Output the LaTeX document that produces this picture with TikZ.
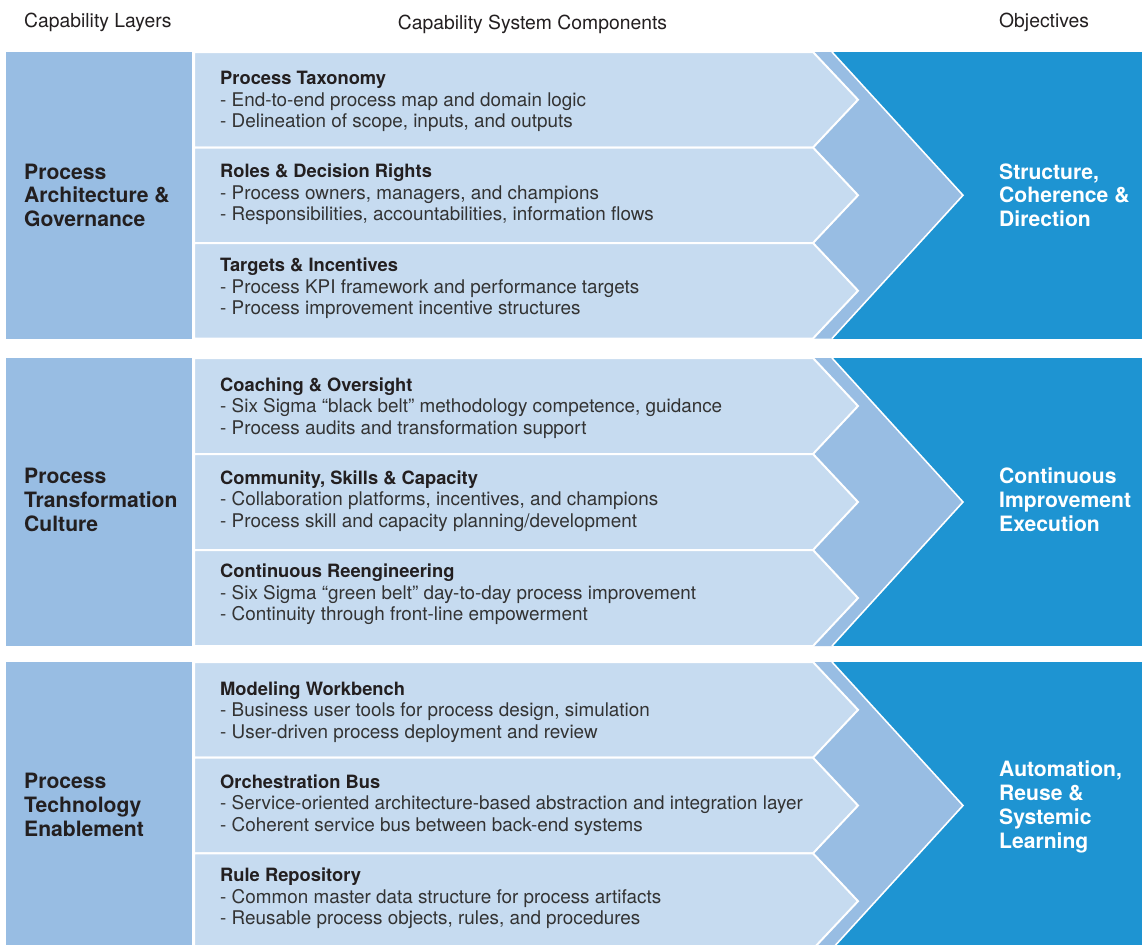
\documentclass[tikz,border=0pt]{standalone}
\usepackage{fontspec}
\setmainfont{TeX Gyre Heros}
\definecolor{lightrow}{HTML}{C6DBF0}
\definecolor{medblue}{HTML}{98BDE3}
\definecolor{darkblue}{HTML}{1E94D2}
\definecolor{txtdark}{HTML}{231F20}
\definecolor{txtbody}{HTML}{333333}
\newcommand\rowfont{\fontsize{18.95}{21.7}\selectfont}
\newcommand\titlefont{\fontsize{18.4}{21.7}\selectfont\bfseries}
\newcommand\layerfont{\fontsize{21.2}{24}\selectfont\bfseries}
\newcommand\headfont{\fontsize{19.4}{22}\selectfont}
\newcommand\rowtext[3]{\begin{tabular}[t]{@{}l@{}}{\titlefont\color{txtdark}#1}\\#2\\#3\end{tabular}}
\newcommand\stack[1]{\begin{tabular}[t]{@{}l@{}}#1\end{tabular}}
\renewcommand\arraystretch{1}
\tikzset{
  rowtxt/.style={anchor=base west, inner sep=0pt, font=\rowfont, text=txtbody},
  layertxt/.style={anchor=base west, inner sep=0pt, font=\layerfont, text=txtdark},
  objtxt/.style={anchor=base west, inner sep=0pt, font=\layerfont, text=white},
  headtxt/.style={inner sep=0pt, font=\headfont, text=txtdark},
  rowshape/.style={fill=lightrow, draw=white, line width=2bp, line join=miter},
  edgeline/.style={draw=white, line width=1.6bp}
}
% band: #1 top, #2 bottom
\newcommand\capband[2]{%
  \pgfmathsetmacro\bt{#1}%
  \pgfmathsetmacro\bb{#2}%
  \pgfmathsetmacro\bc{(#1+#2)/2}%
  \pgfmathsetmacro\rh{(#2-#1)/3}%
  \fill[darkblue] (832,\bt) rectangle (1142,\bb);
  \fill[medblue] (194,\bt) -- (832,\bt) -- (963,\bc) -- (832,\bb) -- (194,\bb) -- cycle;
  \path[edgeline] (832,\bt) -- (963,\bc) -- (832,\bb);
  \fill[medblue] (6,\bt) rectangle (192,\bb);
  \foreach \i in {0,1,2}{%
    \pgfmathsetmacro\rt{\bt+\i*\rh}%
    \pgfmathsetmacro\rb{\bt+(\i+1)*\rh}%
    \pgfmathsetmacro\rc{\bt+(\i+0.5)*\rh}%
    \path[rowshape] (194,\rt) -- (813,\rt) -- (858,\rc) -- (813,\rb) -- (194,\rb) -- cycle;
  }%
}
\begin{document}
\begin{tikzpicture}[x=1bp,y=-1bp]
\useasboundingbox (0,0) rectangle (1142,945);
\clip (0,0) rectangle (1142,945);
\fill[white] (0,0) rectangle (1142,945);

% headers
\node[headtxt, anchor=base west] (hlayers) at (24,27) {Capability Layers};
\node[headtxt, anchor=base] (hcomp) at (532.5,29) {Capability System Components};
\node[headtxt, anchor=base west] (hobj) at (999,27) {Objectives};

% bands
\capband{52}{338.5}
\capband{358}{646}
\capband{662}{949}

% band 1
\node[layertxt] (l1) at (24,179) {\stack{Process\\Architecture \&\\Governance}};
\node[objtxt] (o1) at (999,179) {\stack{Structure,\\Coherence \&\\Direction}};
\node[rowtxt] (r11) at (220,84.5) {\rowtext{Process Taxonomy}{- End-to-end process map and domain logic}{- Delineation of scope, inputs, and outputs}};
\node[rowtxt] (r12) at (220,177.5) {\rowtext{Roles \& Decision Rights}{- Process owners, managers, and champions}{- Responsibilities, accountabilities, information flows}};
\node[rowtxt] (r13) at (220,271.5) {\rowtext{Targets \& Incentives}{- Process KPI framework and performance targets}{- Process improvement incentive structures}};

% band 2
\node[layertxt] (l2) at (24,483.5) {\stack{Process\\Transformation\\Culture}};
\node[objtxt] (o2) at (999,483.5) {\stack{Continuous\\Improvement\\Execution}};
\node[rowtxt] (r21) at (220,391) {\rowtext{Coaching \& Oversight}{- Six Sigma “black belt” methodology competence, guidance}{- Process audits and transformation support}};
\node[rowtxt] (r22) at (220,484) {\rowtext{Community, Skills \& Capacity}{- Collaboration platforms, incentives, and champions}{- Process skill and capacity planning/development}};
\node[rowtxt] (r23) at (220,577.5) {\rowtext{Continuous Reengineering}{- Six Sigma “green belt” day-to-day process improvement}{- Continuity through front-line empowerment}};

% band 3
\node[layertxt] (l3) at (24,788.5) {\stack{Process\\Technology\\Enablement}};
\node[objtxt] (o3) at (999,776.7) {\stack{Automation,\\Reuse \&\\Systemic\\Learning}};
\node[rowtxt] (r31) at (220,695) {\rowtext{Modeling Workbench}{- Business user tools for process design, simulation}{- User-driven process deployment and review}};
\node[rowtxt] (r32) at (220,788) {\rowtext{Orchestration Bus}{- Service-oriented architecture-based abstraction and integration layer}{- Coherent service bus between back-end systems}};
\node[rowtxt] (r33) at (220,881.7) {\rowtext{Rule Repository}{- Common master data structure for process artifacts}{- Reusable process objects, rules, and procedures}};
\end{tikzpicture}
\end{document}
